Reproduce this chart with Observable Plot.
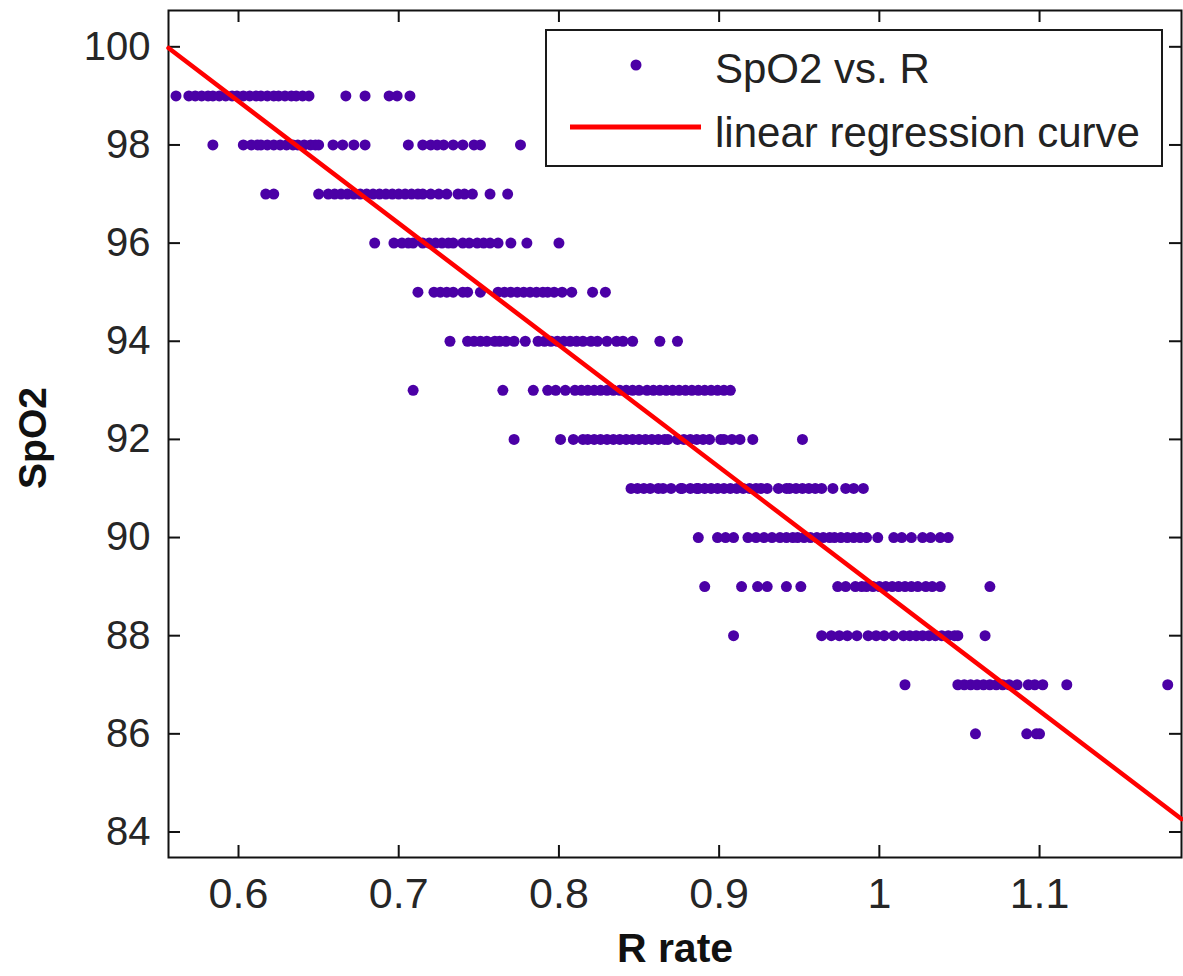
<!DOCTYPE html>
<html>
<head>
<meta charset="utf-8">
<script src="https://cdn.jsdelivr.net/npm/d3@7"></script>
<script src="https://cdn.jsdelivr.net/npm/@observablehq/plot@0.6"></script>
<style>
  body { margin: 0; background: #fff; }
  #wrap { position: relative; width: 1183px; height: 976px; overflow: hidden; }
  #chart svg { display: block; }
  g[aria-label="x-axis tick label"] text { font-family: "Liberation Sans", Arial, sans-serif; font-size: 43px; }
  g[aria-label="y-axis tick label"] text { font-family: "Liberation Sans", Arial, sans-serif; font-size: 40px; }
  #legend { position: absolute; left: 545px; top: 29px; }
  #legend text { font-family: "Liberation Sans", Arial, sans-serif; font-size: 42px; fill: #222; }
</style>
</head>
<body>
<div id="wrap">
  <div id="chart"></div>
  <svg id="legend" width="620" height="140"></svg>
</div>
<script>
// ---- data ----
const spo2Levels = [99, 98, 97, 96, 95, 94, 93, 92, 91, 90, 89, 88, 87, 86];

const rAt99 = [0.561, 0.569, 0.573, 0.577, 0.581, 0.584, 0.588, 0.592, 0.596, 0.599, 0.603, 0.607, 0.611, 0.614, 0.618, 0.622, 0.625, 0.629, 0.633, 0.636, 0.640, 0.644, 0.667, 0.679, 0.694, 0.699, 0.707];
const rAt98 = [0.584, 0.603, 0.608, 0.612, 0.614, 0.618, 0.622, 0.626, 0.630, 0.634, 0.637, 0.641, 0.645, 0.648, 0.650, 0.659, 0.665, 0.672, 0.679, 0.706, 0.715, 0.720, 0.724, 0.728, 0.734, 0.740, 0.747, 0.751, 0.776];
const rAt97 = [0.617, 0.622, 0.650, 0.656, 0.660, 0.664, 0.668, 0.672, 0.676, 0.680, 0.684, 0.688, 0.692, 0.696, 0.700, 0.704, 0.708, 0.712, 0.715, 0.720, 0.725, 0.730, 0.737, 0.741, 0.746, 0.757, 0.768];
const rAt96 = [0.685, 0.697, 0.702, 0.706, 0.709, 0.715, 0.719, 0.723, 0.727, 0.731, 0.734, 0.740, 0.744, 0.749, 0.753, 0.757, 0.762, 0.770, 0.780, 0.800];
const rAt95 = [0.712, 0.722, 0.726, 0.730, 0.734, 0.740, 0.743, 0.751, 0.762, 0.766, 0.770, 0.774, 0.778, 0.782, 0.786, 0.790, 0.793, 0.797, 0.802, 0.808, 0.821, 0.829];
const rAt94 = [0.732, 0.743, 0.747, 0.751, 0.755, 0.760, 0.763, 0.767, 0.772, 0.779, 0.787, 0.791, 0.795, 0.799, 0.803, 0.807, 0.811, 0.815, 0.820, 0.824, 0.830, 0.836, 0.840, 0.846, 0.863, 0.874];
const rAt93 = [0.709, 0.765, 0.784, 0.793, 0.798, 0.804, 0.810, 0.814, 0.818, 0.822, 0.826, 0.830, 0.834, 0.838, 0.842, 0.846, 0.850, 0.855, 0.859, 0.863, 0.867, 0.871, 0.875, 0.879, 0.883, 0.887, 0.891, 0.895, 0.899, 0.903, 0.907];
const rAt92 = [0.772, 0.801, 0.809, 0.815, 0.818, 0.822, 0.826, 0.830, 0.834, 0.838, 0.842, 0.846, 0.850, 0.854, 0.858, 0.862, 0.866, 0.868, 0.874, 0.878, 0.882, 0.886, 0.890, 0.894, 0.901, 0.903, 0.908, 0.913, 0.921, 0.952];
const rAt91 = [0.845, 0.849, 0.853, 0.857, 0.862, 0.865, 0.870, 0.876, 0.877, 0.882, 0.886, 0.887, 0.891, 0.895, 0.899, 0.903, 0.907, 0.911, 0.915, 0.919, 0.923, 0.926, 0.930, 0.937, 0.942, 0.944, 0.948, 0.952, 0.956, 0.960, 0.964, 0.971, 0.979, 0.984, 0.990];
const rAt90 = [0.887, 0.899, 0.904, 0.909, 0.918, 0.923, 0.928, 0.933, 0.938, 0.942, 0.946, 0.949, 0.953, 0.957, 0.961, 0.965, 0.969, 0.972, 0.976, 0.980, 0.984, 0.988, 0.992, 0.999, 1.009, 1.014, 1.020, 1.027, 1.032, 1.038, 1.043];
const rAt89 = [0.891, 0.914, 0.924, 0.930, 0.942, 0.951, 0.974, 0.979, 0.985, 0.989, 0.992, 0.996, 1.000, 1.004, 1.008, 1.012, 1.016, 1.020, 1.024, 1.029, 1.033, 1.038, 1.069];
const rAt88 = [0.909, 0.964, 0.970, 0.975, 0.980, 0.986, 0.993, 0.998, 1.003, 1.009, 1.015, 1.019, 1.023, 1.027, 1.031, 1.035, 1.039, 1.043, 1.047, 1.049, 1.066];
const rAt87 = [1.016, 1.049, 1.053, 1.057, 1.061, 1.065, 1.069, 1.073, 1.077, 1.081, 1.086, 1.093, 1.097, 1.102, 1.117, 1.180];
const rAt86 = [1.060, 1.092, 1.098, 1.100];

// linear regression curve: SpO2 = intercept + slope * R
const regIntercept = 113.80;
const regSlope = -24.85;

const xTicks = [0.6, 0.7, 0.8, 0.9, 1, 1.1];
const yTicks = [84, 86, 88, 90, 92, 94, 96, 98, 100];
const xDomain = [0.5563, 1.1886];
const yDomain = [83.48, 100.74];

const seriesLabel = "SpO2 vs. R";
const lineLabel = "linear regression curve";
const xLabel = "R rate";
const yLabel = "SpO2";

// ---- build tables ----
const rByLevel = [rAt99, rAt98, rAt97, rAt96, rAt95, rAt94, rAt93, rAt92, rAt91, rAt90, rAt89, rAt88, rAt87, rAt86];
const points = spo2Levels.flatMap((s, i) => rByLevel[i].map(r => ({r, spo2: s})));
const regLine = xDomain.map(r => ({r, spo2: regIntercept + regSlope * r}));

const dotColor = "#4b00a6";
const lineColor = "#ff0000";

const W = 1183, H = 976, mL = 168, mR = 2, mT = 10, mB = 119;
const plotW = W - mL - mR, plotH = H - mT - mB, tickLen = 12;
// inward tick length expressed in data units of each scale
const tickDY = tickLen / plotH * (yDomain[1] - yDomain[0]);
const tickDX = tickLen / plotW * (xDomain[1] - xDomain[0]);
const tickStyle = {stroke: "#111", strokeWidth: 2};

const chart = Plot.plot({
  width: W, height: H,
  marginLeft: mL, marginRight: mR, marginTop: mT, marginBottom: mB,
  style: {background: "#fff", color: "#262626", overflow: "visible", fontFamily: "'Liberation Sans', Arial, sans-serif"},
  x: {domain: xDomain},
  y: {domain: yDomain},
  marks: [
    Plot.frame({stroke: "#111", strokeWidth: 2}),
    Plot.ruleX(xTicks, {x: d => d, y1: yDomain[0], y2: yDomain[0] + tickDY, ...tickStyle}),
    Plot.ruleX(xTicks, {x: d => d, y1: yDomain[1] - tickDY, y2: yDomain[1], ...tickStyle}),
    Plot.ruleY(yTicks, {y: d => d, x1: xDomain[0], x2: xDomain[0] + tickDX, ...tickStyle}),
    Plot.ruleY(yTicks, {y: d => d, x1: xDomain[1] - tickDX, x2: xDomain[1], ...tickStyle}),
    Plot.dot(points, {x: "r", y: "spo2", r: 5.5, fill: dotColor, stroke: null}),
    Plot.line(regLine, {x: "r", y: "spo2", stroke: lineColor, strokeWidth: 4.5}),
    Plot.axisX(xTicks, {tickSize: 0, tickPadding: 20, tickFormat: d => String(d), label: null}),
    Plot.axisY(yTicks, {tickSize: 0, tickPadding: 18, tickFormat: d => String(d), label: null}),
    Plot.text([xLabel], {frameAnchor: "bottom", dy: 91, lineAnchor: "middle", textAnchor: "middle", fontSize: 41, fontWeight: "bold", fill: "#111"}),
    Plot.text([yLabel], {frameAnchor: "left", dx: -135, dy: 4, rotate: -90, lineAnchor: "middle", textAnchor: "middle", fontSize: 39, fontWeight: "bold", fill: "#111"})
  ]
});
document.getElementById("chart").appendChild(chart);

// ---- legend (overlay box in the upper right) ----
const lg = d3.select("#legend");
lg.append("rect").attr("x", 1).attr("y", 1).attr("width", 616).attr("height", 136)
  .attr("fill", "#fff").attr("stroke", "#1a1a1a").attr("stroke-width", 2);
lg.append("circle").attr("cx", 91).attr("cy", 36).attr("r", 5.5).attr("fill", dotColor);
lg.append("text").attr("x", 170).attr("y", 54).text(seriesLabel);
lg.append("line").attr("x1", 25).attr("x2", 156).attr("y1", 98).attr("y2", 98)
  .attr("stroke", lineColor).attr("stroke-width", 5);
lg.append("text").attr("x", 170).attr("y", 118).text(lineLabel);
</script>
</body>
</html>
